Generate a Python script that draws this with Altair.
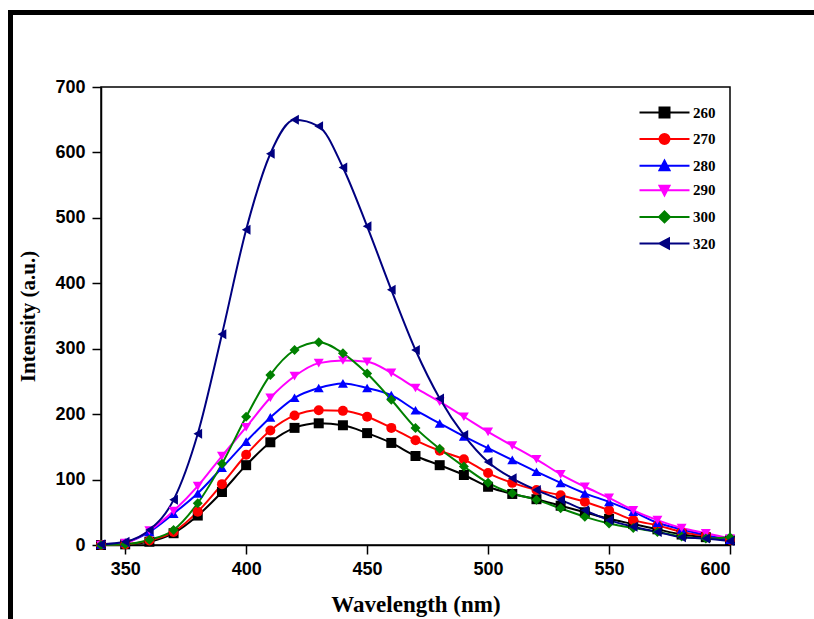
import altair as alt
import pandas as pd

wavelength = list(range(340, 601, 10))
series = ["260", "270", "280", "290", "300", "320"]

s260 = [0, 1, 5, 18, 45, 81, 122, 157, 179, 186, 183, 171, 156, 136, 122, 107, 89, 78, 70, 60, 50, 40, 32, 24, 16, 12, 7]
s270 = [0, 1, 7, 20, 51, 93, 138, 175, 198, 206, 205, 196, 179, 160, 144, 131, 110, 95, 84, 76, 66, 53, 38, 30, 20, 14, 8]
s280 = [1, 4, 20, 48, 79, 118, 158, 195, 225, 240, 247, 240, 229, 206, 186, 166, 148, 130, 112, 95, 79, 66, 51, 34, 24, 15, 8]
s290 = [0, 3, 22, 52, 90, 136, 180, 225, 258, 278, 282, 280, 263, 240, 219, 196, 173, 152, 131, 108, 89, 72, 53, 38, 26, 18, 10]
s300 = [0, 1, 8, 23, 64, 124, 196, 260, 298, 310, 293, 262, 222, 179, 147, 120, 95, 79, 69, 56, 43, 33, 26, 20, 13, 10, 12]
s320 = [1, 5, 23, 69, 170, 322, 482, 598, 650, 640, 577, 487, 390, 298, 224, 168, 127, 102, 84, 69, 53, 38, 28, 20, 12, 10, 6]

colors = ["#000000", "#FF0000", "#0000FF", "#FF00FF", "#008000", "#000080"]
shapes = ["square", "circle", "triangle-up", "triangle-down", "diamond", "triangle-left"]
legend_paths = [
    "M-5,0H5M-1,-1H1V1H-1Z",
    "M-5,0H5M-1,0A1,1 0 1,0 1,0A1,1 0 1,0 -1,0Z",
    "M-5,0H5M-1,0.9L0,-1L1,0.9Z",
    "M-5,0H5M-1,-0.9L0,1L1,-0.9Z",
    "M-5,0H5M0,-1.1L1.1,0L0,1.1L-1.1,0Z",
    "M-5,0H5M-1,0L0.9,-1L0.9,1Z",
]

x_ticks = [350, 400, 450, 500, 550, 600]
y_ticks = [0, 100, 200, 300, 400, 500, 600, 700]

rows = []
for name, vals in zip(series, [s260, s270, s280, s290, s300, s320]):
    for w, v in zip(wavelength, vals):
        rows.append({"Wavelength": w, "Intensity": v, "Series": name})
df = pd.DataFrame(rows)

x = alt.X("Wavelength:Q", scale=alt.Scale(domain=[340, 600], nice=False, zero=False),
          axis=alt.Axis(values=x_ticks, title="Wavelength (nm)"))
y = alt.Y("Intensity:Q", scale=alt.Scale(domain=[0, 700], nice=False),
          axis=alt.Axis(values=y_ticks, title="Intensity (a.u.)"))

def cscale():
    return alt.Scale(domain=series, range=colors)

lines = alt.Chart(df).mark_line(interpolate="monotone", strokeWidth=2).encode(
    x=x, y=y,
    color=alt.Color("Series:N", scale=cscale(), legend=None),
)

points = alt.Chart(df).mark_point(filled=True, size=100, opacity=1).encode(
    x=x, y=y,
    color=alt.Color("Series:N", scale=cscale(), legend=None),
    shape=alt.Shape("Series:N", scale=alt.Scale(domain=series, range=shapes), legend=None),
)

leg_common = dict(
    title=None, orient="none", legendX=556, legendY=18, padding=0,
    labelFont="Liberation Serif", labelFontWeight="bold", labelFontSize=15,
    labelColor="#000000", labelOffset=21, rowPadding=7.6,
    symbolSize=100, symbolStrokeWidth=2, symbolOpacity=1,
)

legend_layer = alt.Chart(df).transform_filter("datum.Intensity < 0").mark_point(
    filled=True, size=100
).encode(
    x=x, y=y,
    color=alt.Color("Series:N", scale=cscale(), legend=alt.Legend(**leg_common)),
    stroke=alt.Stroke("Series:N", scale=cscale(), legend=alt.Legend(**leg_common)),
    shape=alt.Shape("Series:N", scale=alt.Scale(domain=series, range=legend_paths),
                    legend=alt.Legend(**leg_common)),
)

frame = alt.Chart(pd.DataFrame({"k": [0]})).mark_rect(
    fill=None, stroke="#000000", strokeWidth=5, clip=False
).encode(
    x=alt.value(-90.5), x2=alt.value(760), y=alt.value(-74.5), y2=alt.value(600)
)

chart = alt.layer(frame, lines, points, legend_layer).resolve_scale(
    color="independent", shape="independent", stroke="independent"
).properties(
    width=629, height=458,
    autosize=alt.AutoSizeParams(type="none"),
    padding={"left": 101, "top": 87, "right": 84, "bottom": 74},
).configure_view(
    stroke="#000000", strokeWidth=1.5
).configure_axis(
    grid=False,
    domainColor="#000000", domainWidth=1.5,
    tickColor="#000000", tickWidth=1.5, tickSize=9,
    labelFont="Liberation Sans", labelFontWeight="bold", labelFontSize=18, labelColor="#000000",
    titleFont="Liberation Serif", titleFontWeight="bold", titleColor="#000000",
).configure_axisX(
    labelPadding=6, titlePadding=15, titleFontSize=23,
).configure_axisY(
    labelPadding=7, titlePadding=16, titleFontSize=21,
)

chart.save("out.html", embed_options={"renderer": "svg", "actions": False})
